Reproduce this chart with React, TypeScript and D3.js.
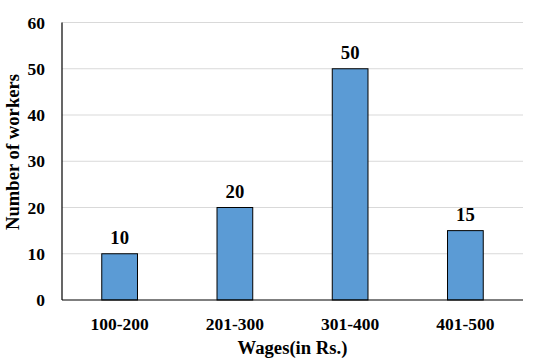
import React from "react";
import * as d3 from "d3";

const categories = ["100-200", "201-300", "301-400", "401-500"];
const workers = [10, 20, 50, 15];
const yTicks = [0, 10, 20, 30, 40, 50, 60];

const W = 545;
const H = 364;
const left = 62;
const right = 523;
const top = 22.5;
const bottom = 300;
const fam = "Liberation Serif, Times New Roman, Times, serif";
const tickStyle: React.CSSProperties = { fontFamily: fam, fontWeight: 700, fontSize: "17.5px" };
const catStyle: React.CSSProperties = { fontFamily: fam, fontWeight: 700, fontSize: "17.5px" };
const bigStyle: React.CSSProperties = { fontFamily: fam, fontWeight: 700, fontSize: "18.67px" };

export default function App() {
  const x = d3.scaleBand<string>().domain(categories).range([left, right]).paddingInner(0.69).paddingOuter(0.345);
  const y = d3.scaleLinear().domain([0, 60]).range([bottom, top]);
  return (
    <svg width={W} height={H} style={{ position: "absolute", left: 0, top: 0, background: "#fff" }}>
      {yTicks.map((t) => (
        <g key={t}>
          {t > 0 && <line x1={left} x2={right} y1={y(t)} y2={y(t)} stroke="#d9d9d9" strokeWidth={1} />}
          <text x={45} y={y(t) + 6} textAnchor="end" style={tickStyle} fill="#000">{t}</text>
        </g>
      ))}
      {categories.map((c, i) => (
        <g key={c}>
          <rect x={x(c)!} y={y(workers[i])} width={x.bandwidth()} height={bottom - y(workers[i])} fill="#5B9BD5" stroke="#000" strokeWidth={1} />
          <text x={x(c)! + x.bandwidth() / 2} y={y(workers[i]) - 10} textAnchor="middle" style={bigStyle} fill="#000">{workers[i]}</text>
          <text x={x(c)! + x.bandwidth() / 2} y={330} textAnchor="middle" style={catStyle} fill="#000">{c}</text>
        </g>
      ))}
      <line x1={left} x2={left} y1={top} y2={bottom} stroke="#000" strokeWidth={1.2} />
      <line x1={left} x2={right} y1={bottom} y2={bottom} stroke="#000" strokeWidth={1.2} />
      <text x={(left + right) / 2} y={354} textAnchor="middle" style={bigStyle} fill="#000">Wages(in Rs.)</text>
      <text transform={`translate(19,152) rotate(-90)`} textAnchor="middle" style={bigStyle} fill="#000">Number of workers</text>
    </svg>
  );
}
